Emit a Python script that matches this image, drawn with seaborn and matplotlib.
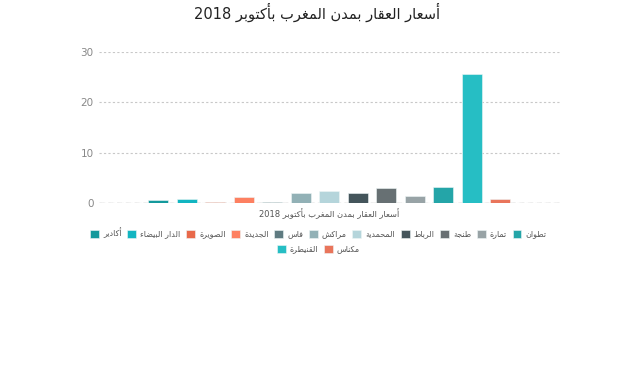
import matplotlib
matplotlib.use("Agg")
import matplotlib.pyplot as plt
import pandas as pd
import seaborn as sns

# Data
cities = ["أكادير", "الدار البيضاء", "الصويرة", "الجديدة", "فاس", "مراكش", "المحمدية",
          "الرباط", "طنجة", "تمارة", "تطوان", "القنيطرة", "مكناس"]
prices = [0.65, 0.85, 0.3, 1.2, 0.3, 2.1, 2.4, 2.0, 3.1, 1.45, 3.15, 25.6, 0.85]
colors = ["#14999c", "#12b5c1", "#e8694a", "#fd8061", "#5f7b81", "#92b1b6", "#b5d5db",
          "#44555b", "#677073", "#98a3a6", "#24a5a8", "#26bec4", "#e9755b"]
y_ticks = [0, 10, 20, 30]
title = "أسعار العقار بمدن المغرب بأكتوبر 2018"
x_title = "أسعار العقار بمدن المغرب بأكتوبر 2018"

# matplotlib has no Arabic shaping, so map letters to presentation forms and reverse
_dual = {"ب": 0xFE8F, "ت": 0xFE95, "ج": 0xFE9D, "ح": 0xFEA1, "س": 0xFEB1, "ش": 0xFEB5,
         "ص": 0xFEB9, "ض": 0xFEBD, "ط": 0xFEC1, "ع": 0xFEC9, "غ": 0xFECD, "ف": 0xFED1,
         "ق": 0xFED5, "ك": 0xFED9, "ل": 0xFEDD, "م": 0xFEE1, "ن": 0xFEE5, "ي": 0xFEF1}
_right = {"أ": 0xFE83, "ا": 0xFE8D, "ة": 0xFE93, "د": 0xFEA9, "ر": 0xFEAD, "و": 0xFEED}
FORMS = {c: tuple(chr(b + k) for k in range(4)) for c, b in _dual.items()}
FORMS.update({c: (chr(b), chr(b + 1)) for c, b in _right.items()})
FORMS["ء"] = (chr(0xFE80),)


def shape(s):
    out = []
    for i, c in enumerate(s):
        forms = FORMS.get(c)
        if forms is None:
            out.append(c)
            continue
        if len(forms) == 1:
            out.append(forms[0])
            continue
        prev = s[i - 1] if i > 0 else ""
        nxt = s[i + 1] if i < len(s) - 1 else ""
        jp = prev in FORMS and len(FORMS[prev]) == 4
        jn = len(forms) == 4 and nxt in FORMS
        if jp and jn:
            out.append(forms[3])
        elif jp:
            out.append(forms[1])
        elif jn:
            out.append(forms[2])
        else:
            out.append(forms[0])
    return "".join(out)


def ar(s):
    words = shape(s).split(" ")
    res = []
    for w in reversed(words):
        if any(ord(ch) > 0x600 for ch in w):
            w = w[::-1]
        res.append(w)
    return " ".join(res)


df = pd.DataFrame({"city": [ar(c) for c in cities], "price": prices})
palette = dict(zip(df["city"], colors))

sns.set_theme(style="white")
plt.rcParams["font.family"] = ["DejaVu Sans"]

fig = plt.figure(figsize=(6.33, 3.75), dpi=100)
ax = fig.add_axes([99 / 633, 1 - 203.3 / 375, (560 - 99) / 633, (203.3 - 51.7) / 375])

sns.barplot(data=df, x="city", y="price", hue="city", palette=palette, saturation=1,
            width=0.7, edgecolor="#eef6f6", linewidth=0.4, legend=True, ax=ax, zorder=2)

handles, labels = ax.get_legend_handles_labels()
ax.get_legend().remove()

ax.set_xlim(-2.07, 14.1)
ax.set_ylim(0, 30)
ax.set_yticks(y_ticks)
ax.set_xticks([])
ax.yaxis.grid(True, linestyle=(0, (2, 2)), color="#c8c8c8", linewidth=0.8)
ax.axhline(0, linestyle=(0, (4, 3)), color="#999999", linewidth=0.9, zorder=1)
ax.set_axisbelow(True)
sns.despine(ax=ax, left=True, bottom=True)
ax.tick_params(axis="y", length=0, pad=4, labelsize=7.5, labelcolor="#888888")
ax.set_ylabel("")
ax.set_xlabel(ar(x_title), fontsize=6, color="#555555", labelpad=4)

fig.text(0.5, 1 - 12 / 375, ar(title), ha="center", va="center", fontsize=10.5, color="#222222")

leg_kw = dict(frameon=False, fontsize=5.8, labelcolor="#555555", handlelength=1.1,
              handleheight=1.1, handletextpad=0.5, columnspacing=0.7, borderaxespad=0)
fig.legend(handles[:11], labels[:11], ncol=11, loc="center",
           bbox_to_anchor=(0.503, 1 - 233 / 375), **leg_kw)
fig.legend(handles[11:], labels[11:], ncol=2, loc="center",
           bbox_to_anchor=(0.503, 1 - 249 / 375), **leg_kw)

fig.savefig("out.png", dpi=100)
